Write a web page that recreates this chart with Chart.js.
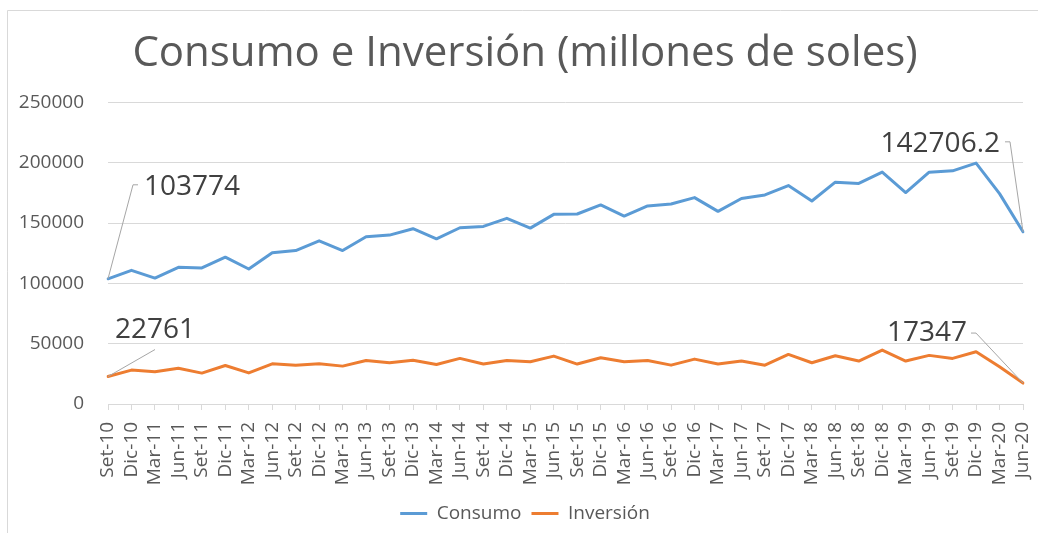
<!DOCTYPE html>
<html lang="es">

<head>
    <meta charset="UTF-8" />
    <title>Consumo e Inversión</title>
    <script src="https://cdn.jsdelivr.net/npm/chart.js"></script>
    <style>
        body { margin: 0; background: #fff; }
        canvas { display: block; }
    </style>
</head>

<body>
    <canvas id="grafico" width="1038" height="533"></canvas>

    <script>
        // trimestres, de Set-10 a Jun-20
        var trimestres = [
            "Set-10", "Dic-10",
            "Mar-11", "Jun-11", "Set-11", "Dic-11",
            "Mar-12", "Jun-12", "Set-12", "Dic-12",
            "Mar-13", "Jun-13", "Set-13", "Dic-13",
            "Mar-14", "Jun-14", "Set-14", "Dic-14",
            "Mar-15", "Jun-15", "Set-15", "Dic-15",
            "Mar-16", "Jun-16", "Set-16", "Dic-16",
            "Mar-17", "Jun-17", "Set-17", "Dic-17",
            "Mar-18", "Jun-18", "Set-18", "Dic-18",
            "Mar-19", "Jun-19", "Set-19", "Dic-19",
            "Mar-20", "Jun-20"
        ];

        var consumo = [
            103774, 110800, 104400, 113300, 112800, 121700, 111900, 125300, 127200, 135300,
            127200, 138600, 140000, 145300, 136900, 146100, 147200, 153900, 145800, 157200,
            157500, 165000, 155800, 164200, 165800, 171100, 159700, 170300, 173300, 181100,
            168300, 183900, 182800, 192200, 175300, 192200, 193300, 199700, 174400, 142706.2
        ];

        var inversion = [
            22761, 28100, 26700, 29700, 25600, 31900, 25800, 33300, 32200, 33300,
            31400, 36100, 34200, 36200, 32800, 37800, 33100, 36100, 35000, 39700,
            33100, 38300, 35000, 36100, 32200, 37200, 33100, 35600, 32200, 41100,
            34200, 40000, 35600, 44700, 35600, 40300, 37800, 43300, 30800, 17347
        ];

        var ticksY = [0, 50000, 100000, 150000, 200000, 250000];

        var gris = "#595959";
        var fuente = "'Open Sans', sans-serif";

        // etiquetas de datos con su linea guia (desplazamientos desde el punto)
        var etiquetas = [
            { ds: 0, i: 0, dx: 36, dy: -92, align: "left", guia: [[25, -94], [30, -94]] },
            { ds: 0, i: 39, dx: -23, dy: -88, align: "right", guia: [[-13, -90], [-18, -90]] },
            { ds: 1, i: 0, dx: 7, dy: -47, align: "left", guia: [[47, -27]] },
            { ds: 1, i: 39, dx: -56, dy: -50, align: "right", guia: [[-47, -50], [-52, -50]] }
        ];

        var marco = {
            id: "marco",
            afterLayout: function (chart) {
                // que los numeros del eje y no queden recortados
                chart.scales.y.left = 7;
            },
            beforeDraw: function (chart) {
                var ctx = chart.ctx;
                ctx.save();
                ctx.fillStyle = "#fff";
                ctx.fillRect(0, 0, chart.width, chart.height);
                ctx.strokeStyle = "#d9d9d9";
                ctx.lineWidth = 1;
                ctx.beginPath();
                ctx.moveTo(7.5, chart.height);
                ctx.lineTo(7.5, 10.5);
                ctx.lineTo(chart.width, 10.5);
                ctx.stroke();
                ctx.restore();
            }
        };

        var rotulos = {
            id: "rotulos",
            afterDatasetsDraw: function (chart) {
                var ctx = chart.ctx;
                ctx.save();
                etiquetas.forEach(function (e) {
                    var p = chart.getDatasetMeta(e.ds).data[e.i];
                    var valor = chart.data.datasets[e.ds].data[e.i];
                    ctx.strokeStyle = "#a6a6a6";
                    ctx.lineWidth = 1;
                    ctx.beginPath();
                    ctx.moveTo(p.x, p.y);
                    e.guia.forEach(function (g) {
                        ctx.lineTo(p.x + g[0], p.y + g[1]);
                    });
                    ctx.stroke();
                    ctx.fillStyle = "#404040";
                    ctx.font = "28px " + fuente;
                    ctx.textAlign = e.align;
                    ctx.textBaseline = "middle";
                    ctx.fillText(String(valor), p.x + e.dx, p.y + e.dy);
                });
                ctx.restore();
            }
        };

        new Chart(document.getElementById("grafico"), {
            type: "line",
            data: {
                labels: trimestres,
                datasets: [
                    {
                        label: "Consumo",
                        data: consumo,
                        borderColor: "#5B9BD5",
                        backgroundColor: "#5B9BD5",
                        borderWidth: 3,
                        pointRadius: 0,
                        tension: 0,
                        borderJoinStyle: "round",
                        borderCapStyle: "round"
                    },
                    {
                        label: "Inversión",
                        data: inversion,
                        borderColor: "#ED7D31",
                        backgroundColor: "#ED7D31",
                        borderWidth: 3,
                        pointRadius: 0,
                        tension: 0,
                        borderJoinStyle: "round",
                        borderCapStyle: "round"
                    }
                ]
            },
            options: {
                responsive: false,
                animation: false,
                devicePixelRatio: 1,
                layout: { padding: { left: 27, right: 15, top: 0, bottom: 0 } },
                plugins: {
                    title: {
                        display: true,
                        text: "Consumo e Inversión (millones de soles)",
                        color: gris,
                        font: { family: fuente, size: 42, weight: "normal" },
                        padding: { top: 29, bottom: 23 }
                    },
                    legend: {
                        position: "bottom",
                        labels: {
                            usePointStyle: true,
                            pointStyle: "line",
                            pointStyleWidth: 27,
                            color: gris,
                            font: { family: fuente, size: 19 },
                            padding: 10
                        }
                    },
                    tooltip: { enabled: false }
                },
                scales: {
                    x: {
                        offset: false,
                        grid: {
                            display: true,
                            drawOnChartArea: false,
                            drawTicks: true,
                            tickLength: 6,
                            color: "#d9d9d9"
                        },
                        border: { display: true, color: "#d9d9d9" },
                        ticks: {
                            autoSkip: false,
                            maxRotation: 90,
                            minRotation: 90,
                            padding: 12,
                            color: gris,
                            font: { family: fuente, size: 19 }
                        },
                        afterFit: function (scale) {
                            scale.height = 90;
                            scale.paddingLeft = 0;
                            scale.paddingRight = 0;
                        }
                    },
                    y: {
                        min: 0,
                        max: 250000,
                        grid: { color: "#d9d9d9", drawTicks: false },
                        border: { display: false },
                        afterBuildTicks: function (scale) {
                            scale.ticks = ticksY.map(function (v) { return { value: v }; });
                        },
                        ticks: {
                            padding: 24,
                            color: gris,
                            font: { family: fuente, size: 19 },
                            callback: function (v) { return String(v); }
                        },
                        afterFit: function (scale) { scale.width = 81; }
                    }
                }
            },
            plugins: [marco, rotulos]
        });
    </script>
</body>

</html>
